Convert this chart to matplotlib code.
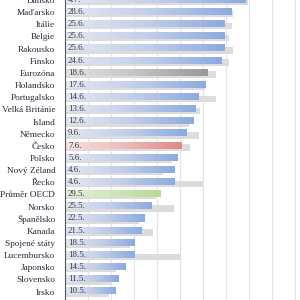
import numpy as np
import matplotlib
matplotlib.use('Agg')
import matplotlib.pyplot as plt
from matplotlib.colors import LinearSegmentedColormap

# countries top -> bottom
countries = ['Dánsko', 'Maďarsko', 'Itálie', 'Belgie', 'Rakousko', 'Finsko',
             'Eurozóna', 'Holandsko', 'Portugalsko', 'Velká Británie', 'Island',
             'Německo', 'Česko', 'Polsko', 'Nový Zéland', 'Řecko', 'Průměr OECD',
             'Norsko', 'Španělsko', 'Kanada', 'Spojené státy', 'Lucembursko',
             'Japonsko', 'Slovensko', 'Irsko']
date_labels = ['4.7.', '28.6.', '25.6.', '25.6.', '25.6.', '24.6.',
               '18.6.', '17.6.', '14.6.', '13.6.', '12.6.',
               '9.6.', '7.6.', '5.6.', '4.6.', '4.6.', '29.5.',
               '25.5.', '22.5.', '21.5.', '18.5.', '18.5.',
               '14.5.', '11.5.', '10.5.']
# day of year (this year) and the previous year shadow bar
days_now = [185, 179, 176, 176, 176, 175, 169, 168, 165, 164, 163,
            160, 158, 156, 155, 155, 149, 145, 142, 141, 138, 138,
            134, 131, 130]
days_prev = [186, 180, 179.4, 178.1, 179.8, 178.1, 172.6, 168, 172.6, 165.7, 161,
             165.3, 161.5, 154, 150, 167, 147, 154.7, 140, 145.7, 136, 157.7,
             130, 128, 127]

fig = plt.figure(figsize=(3, 3), dpi=100)
ax = fig.add_axes([65/300, 0, 235/300, 1])
x0 = 108.3
ax.set_xlim(x0, x0 + 100)
ax.set_ylim(24.69, 0.041)

y = np.arange(len(countries))
for g in np.arange(x0, x0 + 100, 9.8):
    ax.axvline(g, color='#e4e4e4', lw=0.8, zorder=0)

# shadow bars (previous year)
ax.barh(y + 0.14, np.array(days_prev) - x0, left=x0, height=0.55,
        color='#dcdcdc', zorder=1)

cm_blue = LinearSegmentedColormap.from_list('b', ['#e4e8f1', '#c3cfe9', '#8caae0'])
cm_gray = LinearSegmentedColormap.from_list('g', ['#e2e2e2', '#c4c4c4', '#989898'])
cm_red = LinearSegmentedColormap.from_list('r', ['#f6e2e2', '#eebbbb', '#e58787'])
cm_green = LinearSegmentedColormap.from_list('gr', ['#e4f0d8', '#cfe5b8', '#b9da98'])
grad = np.linspace(0, 1, 256).reshape(1, -1)

bars = ax.barh(y - 0.06, np.array(days_now) - x0, left=x0, height=0.58,
               color='none', zorder=2)
for name, b in zip(countries, bars):
    cm = cm_blue
    if name == 'Eurozóna':
        cm = cm_gray
    elif name == 'Česko':
        cm = cm_red
    elif name == 'Průměr OECD':
        cm = cm_green
    bx, by, bw, bh = b.get_x(), b.get_y(), b.get_width(), b.get_height()
    im = ax.imshow(grad, cmap=cm, aspect='auto', zorder=2,
                   extent=[bx, bx + bw, by + bh, by])
    im.set_clip_path(b)

ax.set_xlim(x0, x0 + 100)
ax.set_ylim(24.69, 0.041)

for yi, lab in zip(y, date_labels):
    ax.text(x0 + 1.3, yi - 0.02, lab, ha='left', va='center', fontsize=6.5,
            family='Liberation Serif', color='#3a3a4a', zorder=3)

ax.set_yticks(y)
ax.set_yticklabels(countries, fontsize=6.7, family='Liberation Serif', color='#2a2a3a')
ax.tick_params(axis='y', length=0, pad=7)
ax.set_xticks([])
for s in ['top', 'right', 'bottom']:
    ax.spines[s].set_visible(False)
ax.spines['left'].set_color('#555555')
ax.spines['left'].set_linewidth(0.8)

fig.savefig('out.png', dpi=100)
